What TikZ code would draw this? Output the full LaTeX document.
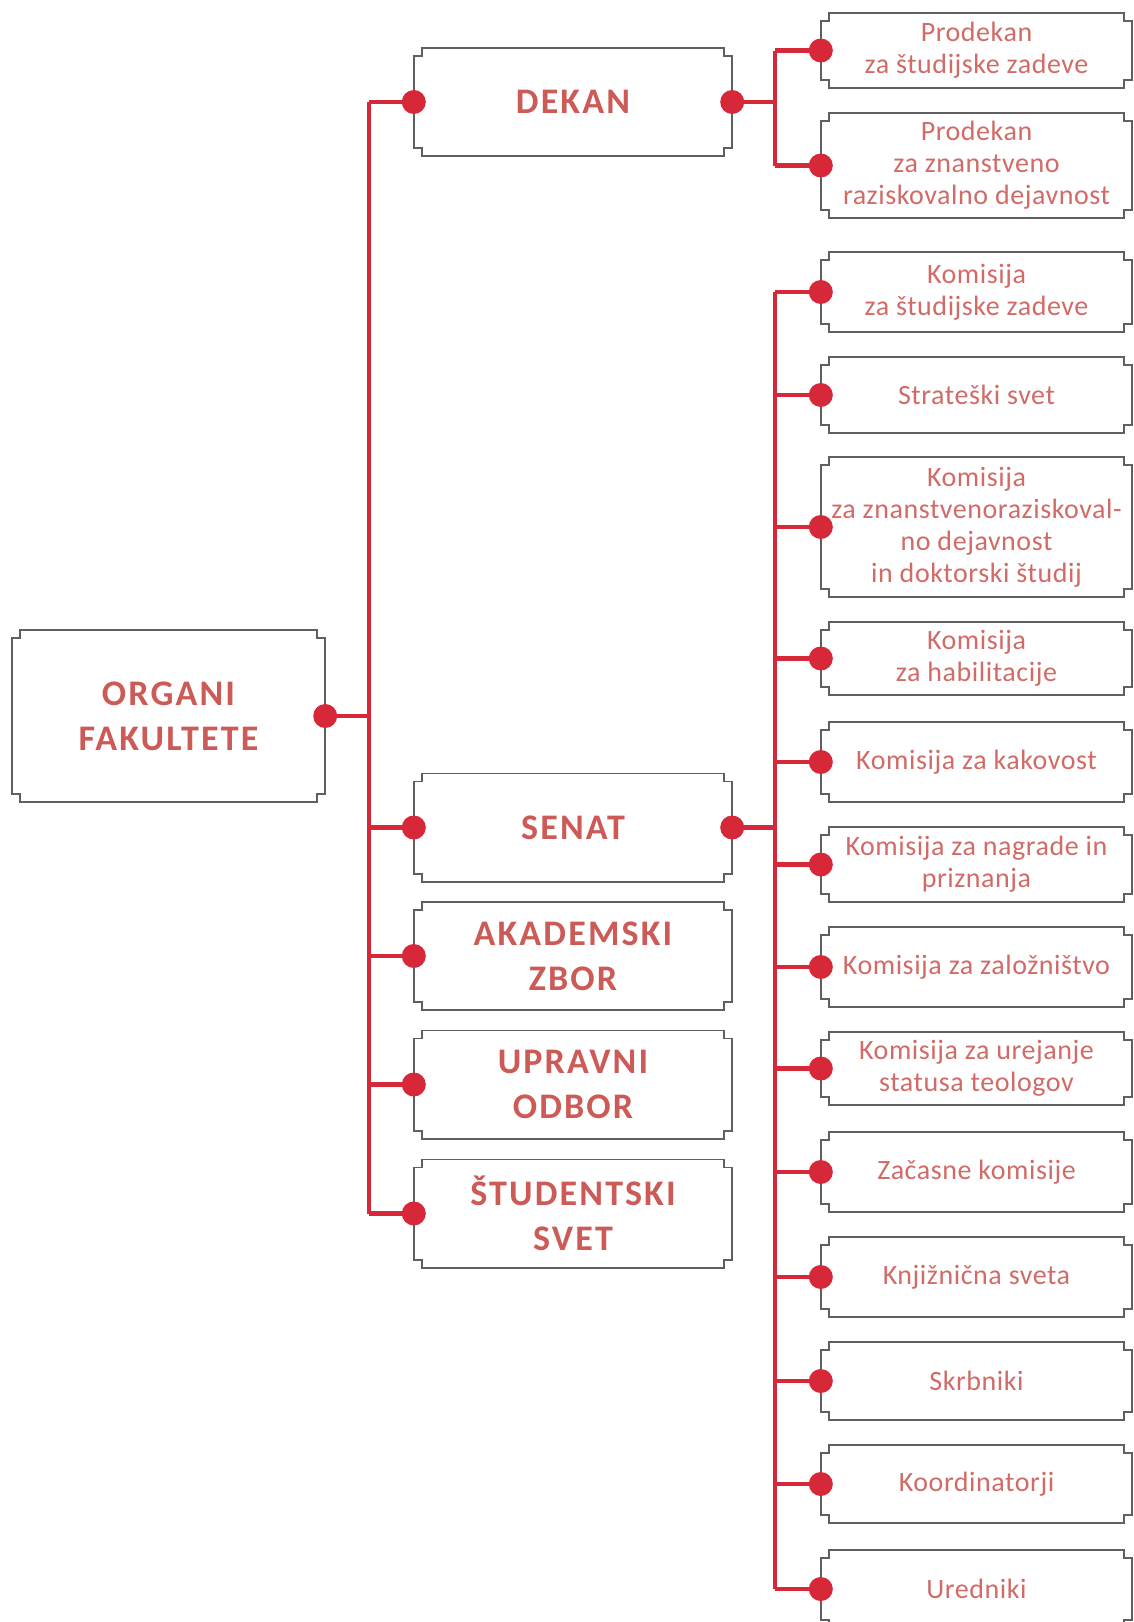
\documentclass[tikz,border=0pt]{standalone}
\usepackage{fontspec}
\setmainfont[LetterSpace=2]{Carlito}
\newfontfamily\headfont[LetterSpace=6]{Carlito}
\usetikzlibrary{calc}

\definecolor{orgred}{RGB}{214,40,56}
\definecolor{txtred}{RGB}{204,90,86}
\definecolor{boxgray}{RGB}{95,95,95}

\tikzset{
  boxline/.style={draw=boxgray,line width=1.6pt},
  conn/.style={draw=orgred,line width=4.5pt},
  blob/.style={fill=orgred},
  lbox/.style={inner sep=0pt,align=center,text=txtred,minimum width=313pt,minimum height=172pt,
    font=\headfont\bfseries\fontsize{36}{45}\selectfont},
  mbox/.style={lbox,minimum width=318pt,minimum height=108pt},
  rbox/.style={inner sep=0pt,align=center,text=txtred!90!white,minimum width=311pt,
    font=\fontsize{28}{32}\selectfont},
}

% box outline with square notches at the corners
\newcommand\notchbox[1]{%
  \draw[boxline] ([yshift=-8pt]#1.north west) -- ([shift={(8pt,-8pt)}]#1.north west) -- ([xshift=8pt]#1.north west)
    -- ([xshift=-8pt]#1.north east) -- ([shift={(-8pt,-8pt)}]#1.north east) -- ([yshift=-8pt]#1.north east)
    -- ([yshift=8pt]#1.south east) -- ([shift={(-8pt,8pt)}]#1.south east) -- ([xshift=-8pt]#1.south east)
    -- ([xshift=8pt]#1.south west) -- ([shift={(8pt,8pt)}]#1.south west) -- ([yshift=8pt]#1.south west) -- cycle;}

\begin{document}
\begin{tikzpicture}[x=1pt,y=-1pt]
  \fill[white] (0,0) rectangle (1133,1622);
  \useasboundingbox (0,0) rectangle (1133,1622);

  % left and middle column
  \node[lbox] (organi) at (168.5,716) {ORGANI\\FAKULTETE};
  \node[mbox] (dekan) at (573,102) {DEKAN};
  \node[mbox] (senat) at (573,827.5) {SENAT};
  \node[mbox] (zbor) at (573,956) {AKADEMSKI\\ZBOR};
  \node[mbox] (odbor) at (573,1084.5) {UPRAVNI\\ODBOR};
  \node[mbox] (svet) at (573,1213.5) {ŠTUDENTSKI\\SVET};

  % prodekana
  \node[rbox,minimum height=75pt] (pd1) at (976.5,50.5) {Prodekan\\za študijske zadeve};
  \node[rbox,minimum height=105pt] (pd2) at (976.5,165.5) {Prodekan\\za znanstveno\\raziskovalno dejavnost};

  % senat
  \node[rbox,minimum height=80pt] (k1) at (976.5,292) {Komisija\\za študijske zadeve};
  \node[rbox,minimum height=76pt] (k2) at (976.5,395) {Strateški svet};
  \node[rbox,minimum height=140pt] (k3) at (976.5,527) {Komisija\\za znanstvenoraziskoval-\\no dejavnost\\in doktorski študij};
  \node[rbox,minimum height=73pt] (k4) at (976.5,658.5) {Komisija\\za habilitacije};
  \node[rbox,minimum height=80pt] (k5) at (976.5,762) {Komisija za kakovost};
  \node[rbox,minimum height=75pt] (k6) at (976.5,864.5) {Komisija za nagrade in\\priznanja};
  \node[rbox,minimum height=80pt] (k7) at (976.5,967) {Komisija za založništvo};
  \node[rbox,minimum height=73pt] (k8) at (976.5,1068.5) {Komisija za urejanje\\statusa teologov};
  \node[rbox,minimum height=80pt] (k9) at (976.5,1172) {Začasne komisije};
  \node[rbox,minimum height=80pt] (k10) at (976.5,1277) {Knjižnična sveta};
  \node[rbox,minimum height=78pt] (k11) at (976.5,1381) {Skrbniki};
  \node[rbox,minimum height=78pt] (k12) at (976.5,1484) {Koordinatorji};
  \node[rbox,minimum height=78pt] (k13) at (976.5,1589) {Uredniki};

  \foreach \b in {organi,dekan,senat,zbor,odbor,svet,pd1,pd2,k1,k2,k3,k4,k5,k6,k7,k8,k9,k10,k11,k12,k13}
    \notchbox{\b};

  % spines
  \coordinate (sp) at (369,0);
  \coordinate (sr) at (775,0);
  \draw[conn] (organi.east) -- (sp |- organi.east);
  \draw[conn] (sp |- dekan.west) -- (sp |- svet.west);
  \foreach \b in {dekan,senat,zbor,odbor,svet}
    \draw[conn] (sp |- \b.west) -- (\b.west);
  \draw[conn] (dekan.east) -- (sr |- dekan.east);
  \draw[conn] (sr |- pd1.west) -- (sr |- pd2.west);
  \draw[conn] (senat.east) -- (sr |- senat.east);
  \draw[conn] (sr |- k1.west) -- (sr |- k13.west);
  \foreach \b in {pd1,pd2,k1,k2,k3,k4,k5,k6,k7,k8,k9,k10,k11,k12,k13}
    \draw[conn] (sr |- \b.west) -- (\b.west);

  % dots
  \foreach \b in {dekan,senat,zbor,odbor,svet,pd1,pd2,k1,k2,k3,k4,k5,k6,k7,k8,k9,k10,k11,k12,k13}
    \fill[blob] (\b.west) circle (12pt);
  \foreach \b in {organi,dekan,senat}
    \fill[blob] (\b.east) circle (12pt);
\end{tikzpicture}
\end{document}
